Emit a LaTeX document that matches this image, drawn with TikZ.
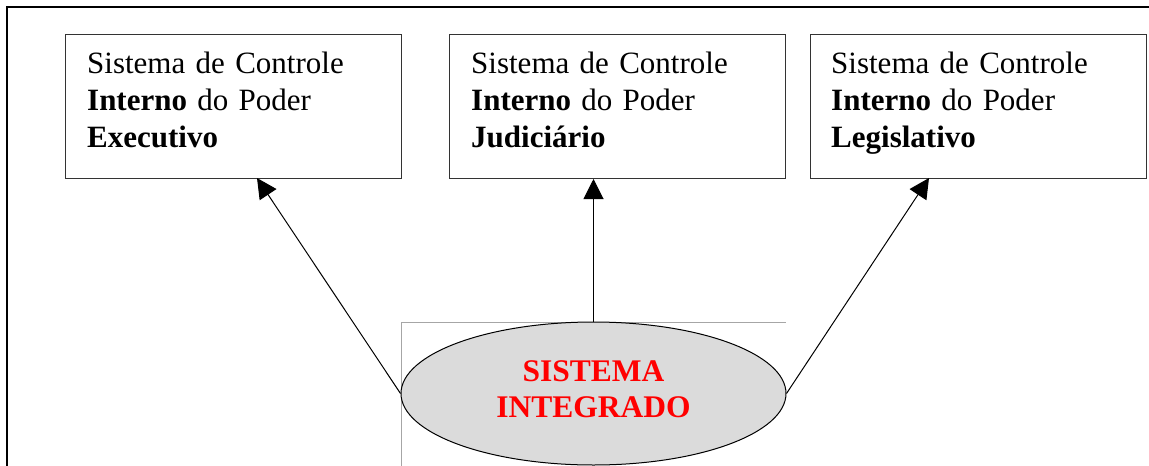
\documentclass[tikz,border=0pt]{standalone}
\usepackage{fontspec}
\setmainfont{Liberation Serif}
\usetikzlibrary{arrows.meta,shapes.geometric}
\tikzset{
  boxnode/.style={draw=black!80, line width=1pt, rectangle, anchor=north west,
    minimum width=336pt, minimum height=144pt, inner sep=0pt},
  boxtext/.style={anchor=base west, inner sep=0pt, text width=300pt, align=left,
    font=\fontsize{31}{37}\selectfont},
  ellnode/.style={draw=black, line width=1pt, ellipse, fill=black!14,
    minimum width=385pt, minimum height=143pt, inner sep=0pt},
  elltext/.style={anchor=base, inner sep=0pt, align=center,
    text=red, font=\fontsize{31.5}{35.5}\selectfont\bfseries},
  conn/.style={line width=1pt, -{Triangle[length=20pt,width=20pt]}},
  framestyle/.style={line width=2pt, black},
  guide/.style={line width=0.8pt, black!35}
}
\begin{document}
\begin{tikzpicture}[x=1pt,y=-1pt]
\useasboundingbox (0,0) rectangle (1149,466);
% outer frame (top and left visible)
\draw[framestyle] (7,466) -- (7,7) -- (1149,7);
% light guide frame around the ellipse
\coordinate (gtr) at (786,322);
\coordinate (gtl) at (401,322);
\coordinate (gbl) at (401,466);
\draw[guide] (gbl) -- (gtl) -- (gtr);
% boxes
\node[boxnode] (exe) at (65,34) {};
\node[boxnode] (jud) at (449,34) {};
\node[boxnode] (leg) at (810,34) {};
\node[boxtext] (exeT) at (87,73) {Sistema de Controle\\\textbf{Interno} do Poder\\\textbf{Executivo}};
\node[boxtext] (judT) at (471,73) {Sistema de Controle\\\textbf{Interno} do Poder\\\textbf{Judiciário}};
\node[boxtext] (legT) at (831,73) {Sistema de Controle\\\textbf{Interno} do Poder\\\textbf{Legislativo}};
% ellipse
\node[ellnode] (ell) at (593.5,393.5) {};
\node[elltext] (ellT) at (593.5,417) {SISTEMA\\INTEGRADO};
% arrow targets
\coordinate (t1) at (257,178);
\coordinate (t3) at (929,178);
\draw[conn] (ell.west) -- (t1);
\draw[conn] (ell.north) -- (ell.north |- jud.south);
\draw[conn] (ell.east) -- (t3);
\end{tikzpicture}
\end{document}
